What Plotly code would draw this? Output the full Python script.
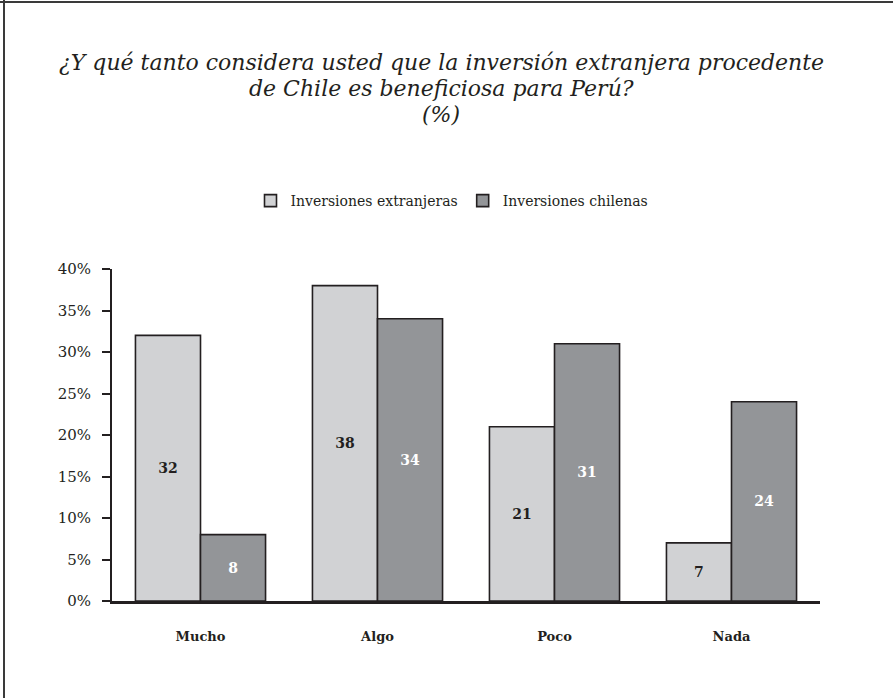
import plotly.graph_objects as go

categories = ["Mucho", "Algo", "Poco", "Nada"]
extranjeras = [32, 38, 21, 7]
chilenas = [8, 34, 31, 24]
series_names = ["Inversiones extranjeras", "Inversiones chilenas"]
y_ticks = [0, 5, 10, 15, 20, 25, 30, 35, 40]
y_tick_labels = [f"{v}%" for v in y_ticks]
title_lines = [
    "¿Y qué tanto considera usted que la inversión extranjera procedente",
    "de Chile es beneficiosa para Perú?",
    "(%)",
]

W, H = 893, 698
M_L, M_R, M_T, M_B = 112, 73, 269, 97
PW, PH = W - M_L - M_R, H - M_T - M_B

def px_x(px):
    return (px - M_L) / PW

def px_y(py):
    return (H - M_B - py) / PH

SERIF = "DejaVu Serif"
LIGHT = "#d1d2d4"
DARK = "#939598"
EDGE = "#231f20"

fig = go.Figure()
fig.add_trace(go.Bar(
    x=categories, y=extranjeras, name=series_names[0],
    marker=dict(color=LIGHT, line=dict(color=EDGE, width=1.6)),
    text=extranjeras, texttemplate="<b>%{text}</b>",
    textposition="inside", insidetextanchor="middle",
    textfont=dict(family=SERIF, size=14, color="#231f20"),
))
fig.add_trace(go.Bar(
    x=categories, y=chilenas, name=series_names[1],
    marker=dict(color=DARK, line=dict(color=EDGE, width=1.6)),
    text=chilenas, texttemplate="<b>%{text}</b>",
    textposition="inside", insidetextanchor="middle",
    textfont=dict(family=SERIF, size=14, color="#ffffff"),
))

fig.update_layout(
    width=W, height=H,
    margin=dict(l=M_L, r=M_R, t=M_T, b=M_B),
    paper_bgcolor="white", plot_bgcolor="white",
    barmode="group", bargap=0.265, bargroupgap=0,
    font=dict(family=SERIF, color="#231f20"),
    showlegend=True,
    legend=dict(
        orientation="h", x=px_x(452), y=px_y(201),
        xanchor="center", yanchor="middle",
        font=dict(family=SERIF, size=14, color="#231f20"),
        itemwidth=30, tracegroupgap=0,
    ),
    xaxis=dict(
        showline=True, linecolor=EDGE, linewidth=2.5,
        ticks="", showgrid=False,
        tickfont=dict(family=SERIF, size=13, color="#231f20", weight="bold"),
        ticklabelstandoff=22,
    ),
    yaxis=dict(
        range=[0, 40], tickvals=y_ticks, ticktext=y_tick_labels,
        showline=True, linecolor=EDGE, linewidth=2,
        ticks="outside", ticklen=8, tickwidth=2, tickcolor=EDGE,
        showgrid=False, zeroline=False,
        tickfont=dict(family=SERIF, size=15, color="#231f20"),
        ticklabelstandoff=8,
    ),
)

# three-line italic title
for line, ypx in zip(title_lines, [62, 88, 114]):
    fig.add_annotation(
        text=f"<i>{line}</i>",
        xref="paper", yref="paper", x=px_x(441), y=px_y(ypx),
        xanchor="center", yanchor="middle", showarrow=False,
        font=dict(family=SERIF, size=22, color="#231f20"),
    )

# frame along the top and left edges
fig.add_shape(type="line", xref="paper", yref="paper",
              x0=px_x(0), x1=px_x(W), y0=px_y(2), y1=px_y(2),
              line=dict(color="#3a3a3a", width=2))
fig.add_shape(type="line", xref="paper", yref="paper",
              x0=px_x(4), x1=px_x(4), y0=px_y(0), y1=px_y(H),
              line=dict(color="#3a3a3a", width=2))

fig.write_html("out.html")
